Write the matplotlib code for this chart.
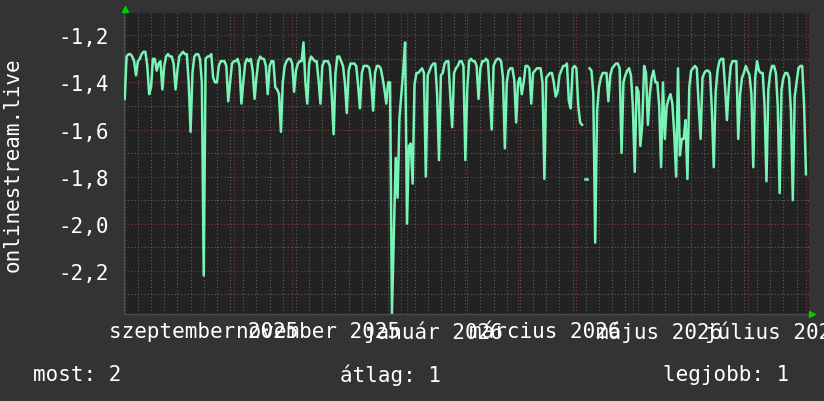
"""
plot.py
Daily onlinestream.live values, Aug 2025 - Aug 2026, drawn rrdtool-style.
"""
import datetime as dt

import numpy as np
import matplotlib
matplotlib.use("Agg")
import matplotlib.pyplot as plt

START = dt.date(2025, 8, 4)  # first point, a Monday

# daily values, one row per week (Mon..Sun)
aug_oct = [
    -1.47, -1.29, -1.28, -1.28, -1.29, -1.31, -1.37,
    -1.31, -1.30, -1.28, -1.27, -1.27, -1.33, -1.45,
    -1.42, -1.30, -1.30, -1.35, -1.32, -1.31, -1.43,
    -1.33, -1.29, -1.28, -1.29, -1.29, -1.32, -1.43,
    -1.35, -1.29, -1.28, -1.27, -1.28, -1.28, -1.40,
    -1.61, -1.36, -1.29, -1.28, -1.28, -1.30, -1.40,
    -2.22, -1.30, -1.29, -1.29, -1.28, -1.38, -1.40,
    -1.40, -1.33, -1.31, -1.31, -1.31, -1.33, -1.48,
    -1.40, -1.32, -1.31, -1.31, -1.30, -1.33, -1.49,
    -1.40, -1.32, -1.30, -1.31, -1.30, -1.35, -1.47,
    -1.38, -1.31, -1.29, -1.30, -1.30, -1.33, -1.45,
    -1.33, -1.31, -1.31, -1.42, -1.43, -1.45, -1.61,
    -1.40, -1.33, -1.31, -1.30, -1.30, -1.32, -1.44,
]
nov_jan = [
    -1.35, -1.32, -1.31, -1.31, -1.23, -1.40, -1.49,
    -1.32, -1.29, -1.30, -1.31, -1.31, -1.39, -1.49,
    -1.33, -1.31, -1.31, -1.31, -1.33, -1.45, -1.62,
    -1.36, -1.29, -1.29, -1.31, -1.33, -1.40, -1.53,
    -1.35, -1.32, -1.32, -1.32, -1.33, -1.41, -1.51,
    -1.36, -1.33, -1.33, -1.33, -1.34, -1.40, -1.52,
    -1.36, -1.33, -1.33, -1.34, -1.38, -1.43, -1.49,
    -1.40, -1.40, -2.38, -2.05, -1.72, -1.89, -1.55,
    -1.45, -1.35, -1.23, -2.00, -1.67, -1.66, -1.83,
    -1.41, -1.36, -1.36, -1.35, -1.34, -1.36, -1.80,
    -1.37, -1.35, -1.33, -1.32, -1.32, -1.45, -1.73,
    -1.37, -1.36, -1.32, -1.31, -1.31, -1.46, -1.59,
    -1.36, -1.34, -1.33, -1.31, -1.31, -1.33, -1.73,
]
feb_apr = [
    -1.43, -1.31, -1.30, -1.31, -1.31, -1.33, -1.47,
    -1.34, -1.31, -1.31, -1.30, -1.31, -1.45, -1.60,
    -1.33, -1.31, -1.30, -1.30, -1.31, -1.38, -1.68,
    -1.40, -1.35, -1.34, -1.34, -1.39, -1.57, -1.40,
    -1.38, -1.45, -1.40, -1.33, -1.33, -1.34, -1.49,
    -1.36, -1.35, -1.34, -1.34, -1.34, -1.40, -1.81,
    -1.38, -1.37, -1.36, -1.36, -1.40, -1.46, -1.44,
    -1.37, -1.35, -1.33, -1.33, -1.32, -1.48, -1.51,
    -1.34, -1.33, -1.34, -1.50, -1.57, -1.58, np.nan,
    -1.81, np.nan, -1.34, -1.35, -1.45, -2.08, -1.52,
    -1.42, -1.38, -1.36, -1.36, -1.36, -1.48, -1.37,
    -1.34, -1.33, -1.32, -1.32, -1.34, -1.70, -1.40,
    -1.37, -1.35, -1.34, -1.37, -1.50, -1.78, -1.42,
]
may_aug = [
    -1.44, -1.67, -1.58, -1.33, -1.36, -1.58, -1.45,
    -1.38, -1.35, -1.40, -1.40, -1.50, -1.76, -1.40,
    -1.64, -1.50, -1.47, -1.45, -1.49, -1.62, -1.80,
    -1.34, -1.71, -1.64, -1.64, -1.56, -1.81, -1.42,
    -1.35, -1.34, -1.33, -1.34, -1.50, -1.64, -1.38,
    -1.36, -1.35, -1.35, -1.36, -1.52, -1.76, -1.44,
    -1.35, -1.31, -1.30, -1.30, -1.42, -1.56, -1.42,
    -1.33, -1.31, -1.31, -1.31, -1.64, -1.45, -1.38,
    -1.36, -1.33, -1.35, -1.37, -1.45, -1.76, -1.38,
    -1.31, -1.35, -1.36, -1.36, -1.50, -1.82, -1.43,
    -1.36, -1.33, -1.33, -1.36, -1.50, -1.87, -1.43,
    -1.38, -1.36, -1.36, -1.38, -1.52, -1.90, -1.46,
    -1.40, -1.34, -1.33, -1.33, -1.50, -1.79,
]

y_ticks = [-2.2, -2.0, -1.8, -1.6, -1.4, -1.2]
y_minor = [-2.3, -2.1, -1.9, -1.7, -1.5, -1.3]
label_dates = [dt.date(2025, 9, 15), dt.date(2025, 11, 15), dt.date(2026, 1, 15),
               dt.date(2026, 3, 15), dt.date(2026, 5, 15), dt.date(2026, 7, 15)]
label_texts = ["szeptember 2025", "november 2025", "január 2026",
               "március 2026", "május 2026", "július 2026"]
legend_texts = ["most: 2", "átlag: 1", "legjobb: 1"]

BACK = "#333333"
CANVAS = "#222222"
LINE = "#78f4b6"
MINOR = "#606060"
MAJOR = "#8a3a3a"
ARROW = "#00cc00"
MONO = "DejaVu Sans Mono"

values = np.array(aug_oct + nov_jan + feb_apr + may_aug, dtype=float)
days = np.arange(len(values))

fig = plt.figure(figsize=(8.24, 4.02), dpi=100, facecolor=BACK)
ax = fig.add_axes([124 / 824, 87 / 402, 685 / 824, 301 / 402])
ax.set_facecolor(CANVAS)
ax.set_xlim(-0.37, 363.6)
ax.set_ylim(-2.3834, -1.1053)

dots = (0, (1, 2))
# horizontal grid
for y in y_minor:
    ax.axhline(y, color=MINOR, lw=0.8, ls=dots, zorder=1)
for y in y_ticks:
    ax.axhline(y, color=MAJOR, lw=0.8, ls=dots, zorder=1)
# weekly (Monday) and monthly grid
for d in range(0, 364, 7):
    ax.axvline(d, color=MINOR, lw=0.8, ls=dots, zorder=1)
month_days = []
for i in range(12):
    y, m = 2025 + (8 + i) // 12, (8 + i) % 12 + 1
    month_days.append((dt.date(y, m, 1) - START).days)
for d in month_days:
    ax.axvline(d, color=MAJOR, lw=0.8, ls=dots, zorder=1)

ax.plot(days, values, color=LINE, lw=1.8, zorder=3)
# lone points between gaps are drawn as a short dash, like rrdtool does
for i in range(1, len(values) - 1):
    if np.isfinite(values[i]) and np.isnan(values[i - 1]) and np.isnan(values[i + 1]):
        ax.plot([i - 0.5, i + 0.5], [values[i], values[i]], color=LINE, lw=1.8, zorder=3)

for side in ("top", "right"):
    ax.spines[side].set_visible(False)
for side in ("left", "bottom"):
    ax.spines[side].set_color("#4a4a4a")
    ax.spines[side].set_linewidth(1.0)

ax.set_yticks(y_ticks, [f"{v:.1f}".replace(".", ",") for v in y_ticks])
ax.set_xticks([(d - START).days for d in label_dates], label_texts)
ax.tick_params(axis="both", length=0, colors="white", labelsize=15)
ax.tick_params(axis="y", pad=11)
ax.tick_params(axis="x", pad=5)
for lab in ax.get_xticklabels() + ax.get_yticklabels():
    lab.set_family(MONO)

# green arrows at the axis ends
ax.plot([0.002], [1.013], marker="^", ms=5, color=ARROW, transform=ax.transAxes,
        clip_on=False, zorder=5)
ax.plot([1.004], [0.0], marker=">", ms=5, color=ARROW, transform=ax.transAxes,
        clip_on=False, zorder=5)

fig.text(13 / 824, 1 - 165 / 402, "onlinestream.live", rotation=90, ha="center",
         va="center", color="white", fontsize=15, family=MONO)

legend_x = [33, 340, 663]
for x, t in zip(legend_x, legend_texts):
    fig.text(x / 824, 1 - 375 / 402, t, ha="left", va="center", color="white",
             fontsize=15, family=MONO)

fig.savefig("out.png", dpi=100, facecolor=BACK)
